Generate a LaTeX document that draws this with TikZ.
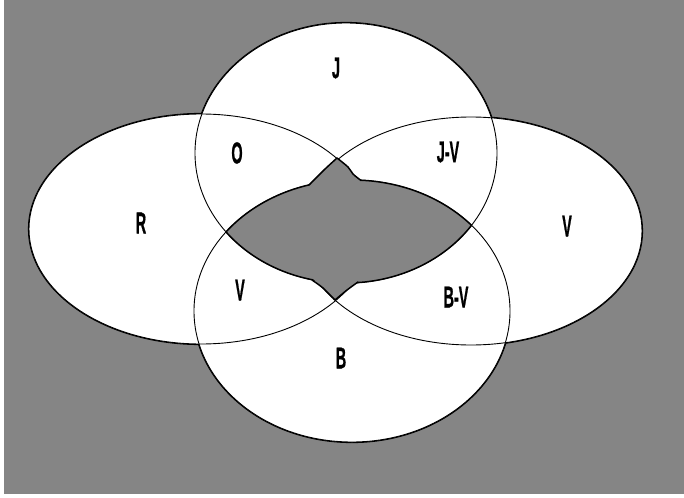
\documentclass[tikz,border=0pt]{standalone}
\usepackage{fontspec}
\setmainfont{Liberation Sans}
\newfontfamily\lblfont[BoldFeatures={FakeBold=1.2}]{Liberation Sans}
\definecolor{bg}{gray}{0.52}
\newcommand{\cnd}[1]{\scalebox{0.48}[1]{#1}}
\tikzset{
  lbl/.style={font=\fontsize{30}{30}\selectfont\lblfont\bfseries, inner sep=0pt, text=black},
  outer/.style={draw=black, line width=2.2pt},
  inner/.style={draw=black, line width=0.9pt},
  holeline/.style={draw=black, line width=1.5pt, line join=round, line cap=round}
}
\begin{document}
\begin{tikzpicture}[x=1pt,y=-1pt]
\useasboundingbox (0,0) rectangle (684,497);
\fill[white] (0,0) rectangle (684,497);
\fill[bg] (4,0) rectangle (684,494);
% set shapes: J (top), B (bottom), R (left), V (right)
\def\shJ{(346,153) ellipse [x radius=151pt, y radius=130pt]}
\def\shB{(352,311) ellipse [x radius=158pt, y radius=131pt]}
\def\shR{(201,229) ellipse [x radius=172pt, y radius=115pt]}
\def\shV{(471,231) ellipse [x radius=171pt, y radius=114pt]}
\path[outer] \shJ; \path[outer] \shB; \path[outer] \shR; \path[outer] \shV;
\fill[white] \shJ; \fill[white] \shB; \fill[white] \shR; \fill[white] \shV;
\path[inner] \shJ; \path[inner] \shB; \path[inner] \shR; \path[inner] \shV;
% central region: J and B overlap, with two humps
\begin{scope}
  \clip \shJ;
  \fill[bg] \shB;
  \path[holeline] \shB;
\end{scope}
\begin{scope}
  \clip \shB;
  \path[holeline] \shJ;
\end{scope}
\fill[bg] (309,186) -- (324,170) -- (337,158) -- (348,167) -- (353,174) -- (361,181) -- (361,196) -- (309,196) -- cycle;
\path[holeline] plot[smooth,tension=0.5] coordinates {(309,185) (324,170) (337,158)}
  -- plot[smooth,tension=0.5] coordinates {(337,158) (348,167) (353,174) (361,180.5)};
\fill[bg] (313,279) -- (323,288) -- (335,300) -- (347,290) -- (357,282) -- (357,268) -- (313,268) -- cycle;
\path[holeline] plot[smooth,tension=0.5] coordinates {(312,280) (323,288) (335,300)}
  -- plot[smooth,tension=0.5] coordinates {(335,300) (347,290) (358,282)};
% labels
\node[lbl] (lJ)  at (336,68)  {\cnd{J}};
\node[lbl] (lO)  at (237,153) {\cnd{O}};
\node[lbl] (lJV) at (448,152) {\cnd{J-V}};
\node[lbl] (lR)  at (141,223) {\cnd{R}};
\node[lbl] (lV)  at (567,226) {\cnd{V}};
\node[lbl] (lRB) at (240,290) {\cnd{V}};
\node[lbl] (lBV) at (456,297) {\cnd{B-V}};
\node[lbl] (lB)  at (341,358) {\cnd{B}};
\end{tikzpicture}
\end{document}
